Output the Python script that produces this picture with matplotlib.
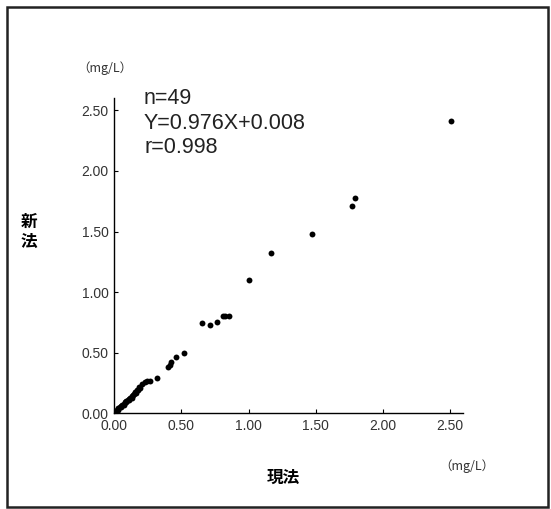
import matplotlib
matplotlib.use("Agg")
import matplotlib.pyplot as plt
from matplotlib.patches import Rectangle

plt.rcParams['font.family'] = ['Liberation Sans', 'Noto Sans CJK JP', 'DejaVu Sans']

# Data: current method (現法) vs new method (新法), mg/L
current = [2.51, 1.79, 1.774, 1.47, 1.17, 1.00,
           0.653, 0.71, 0.765, 0.81, 0.827, 0.855,
           0.521, 0.456, 0.424, 0.416, 0.40, 0.317,
           0.267, 0.247, 0.23, 0.21, 0.187, 0.175, 0.155,
           0.01, 0.02, 0.03, 0.03, 0.04, 0.05, 0.05, 0.06, 0.07, 0.07,
           0.08, 0.09, 0.09, 0.10, 0.11, 0.11, 0.12, 0.13, 0.13, 0.14,
           0.15, 0.16, 0.17, 0.19]
new = [2.41, 1.78, 1.707, 1.48, 1.32, 1.10,
       0.744, 0.732, 0.752, 0.804, 0.804, 0.804,
       0.50, 0.463, 0.42, 0.40, 0.38, 0.294,
       0.267, 0.267, 0.26, 0.242, 0.215, 0.193, 0.177,
       0.02, 0.03, 0.03, 0.04, 0.05, 0.05, 0.06, 0.07, 0.07, 0.08,
       0.09, 0.09, 0.10, 0.11, 0.12, 0.11, 0.13, 0.14, 0.13, 0.15,
       0.16, 0.17, 0.19, 0.21]
ticks = [0.0, 0.5, 1.0, 1.5, 2.0, 2.5]
tick_labels = ["0.00", "0.50", "1.00", "1.50", "2.00", "2.50"]
stats_text = "n=49\nY=0.976X+0.008\nr=0.998"
x_label = "現法"
y_label = "新\n法"
unit = "（mg/L）"

fig = plt.figure(figsize=(5.51, 5.09), dpi=100)
fig.patches.append(Rectangle((7/551, 1-507/509), 541/551, 500/509,
                             transform=fig.transFigure, fill=False,
                             edgecolor='#222222', linewidth=1.8))

ax = fig.add_axes([114.3/551, 1-413.3/509, 349/551, 315/509])
ax.scatter(current, new, s=18, color='black', linewidths=0, zorder=3)
ax.set_xlim(0, 2.6)
ax.set_ylim(0, 2.6)
ax.set_xticks(ticks)
ax.set_yticks(ticks)
ax.set_xticklabels(tick_labels)
ax.set_yticklabels(tick_labels)
for s in ['top', 'right']:
    ax.spines[s].set_visible(False)
for s in ['left', 'bottom']:
    ax.spines[s].set_linewidth(1.0)
ax.tick_params(direction='in', length=3, width=0.8, labelsize=10,
               labelcolor='#333333', pad=4)

fig.text(144/551, 1-88/509, stats_text, fontsize=15.5,
         va='top', ha='left', linespacing=1.22, color='#222222')

fig.text(105/551, 1-68/509, unit, fontsize=9, ha='center', va='center',
         color='#333333', family=['Noto Sans CJK JP'])
fig.text(467/551, 1-466/509, unit, fontsize=9, ha='center', va='center',
         color='#333333', family=['Noto Sans CJK JP'])
fig.text(29/551, 1-232/509, y_label, fontsize=12, ha='center', va='center',
         fontweight='bold', linespacing=1.15, family=['Noto Sans CJK JP'])
fig.text(283/551, 1-478/509, x_label, fontsize=12, ha='center', va='center',
         fontweight='bold', family=['Noto Sans CJK JP'])

fig.savefig("out.png", dpi=100)
